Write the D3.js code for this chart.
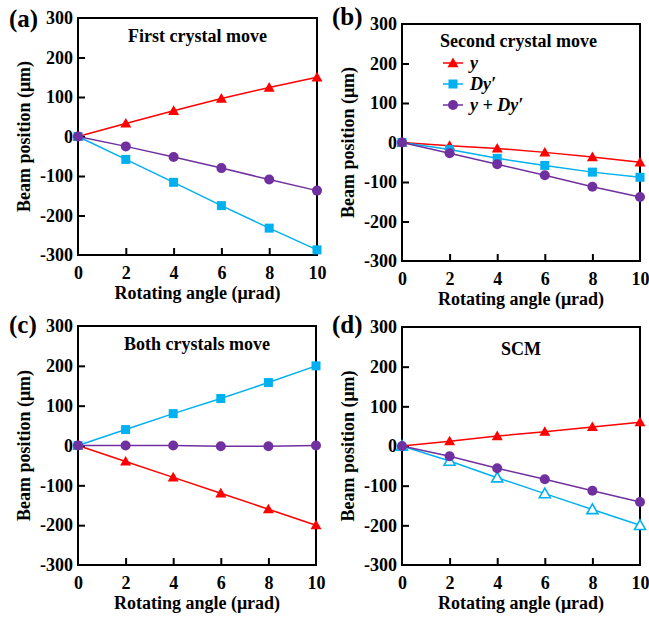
<!DOCTYPE html>
<html>
<head>
<meta charset="utf-8">
<script src="https://cdn.jsdelivr.net/npm/d3@7"></script>
<style>
  body { margin: 0; background: #fff; }
  text { font-family: "Liberation Serif", "Times New Roman", serif; font-weight: bold; }
</style>
</head>
<body>
<svg id="chart" width="649" height="618"></svg>
<script>
// Shared x values and tick labels
const angles = [0, 2, 4, 6, 8, 10];
const xTicks = [0, 2, 4, 6, 8, 10];
const yTicks = [-300, -200, -100, 0, 100, 200, 300];

// (a) First crystal move
const aY    = [0, 33, 65, 96, 124, 150];
const aDy   = [0, -58, -116, -175, -232, -287];
const aSum  = [0, -25, -52, -80, -109, -137];
// (b) Second crystal move
const bY    = [0, -8, -15, -25, -37, -50];
const bDy   = [0, -18, -40, -58, -75, -88];
const bSum  = [0, -27, -55, -83, -112, -138];
// (c) Both crystals move
const cY    = [0, -40, -80, -120, -160, -200];
const cDy   = [0, 40, 80, 118, 158, 200];
const cSum  = [0, 0, 0, -2, -2, 0];
// (d) SCM
const dY    = [0, 12, 25, 36, 48, 60];
const dDy   = [0, -38, -80, -120, -160, -200];
const dSum  = [0, -26, -56, -84, -113, -141];

const legendLabels = ["y", "Dy\u2032", "y + Dy\u2032"];

const red = "#ff0000", cyan = "#00b0f0", purple = "#7030a0";

// Set panel boxes
const panels = [
  {label: "(a)", title: "First crystal move", x0: 78, x1: 317, y0: 18, y1: 255, lx: 9, ly: 27,
   series: [[aY, red, "tri"], [aDy, cyan, "sq"], [aSum, purple, "circ"]]},
  {label: "(b)", title: null, x0: 402, x1: 640, y0: 24, y1: 261, lx: 332, ly: 25, legend: true,
   series: [[bY, red, "tri"], [bDy, cyan, "sq"], [bSum, purple, "circ"]]},
  {label: "(c)", title: "Both crystals move", x0: 78, x1: 316, y0: 326, y1: 565, lx: 9, ly: 333,
   series: [[cY, red, "tri"], [cDy, cyan, "sq"], [cSum, purple, "circ"]]},
  {label: "(d)", title: "SCM", x0: 402, x1: 640, y0: 327, y1: 565, lx: 332, ly: 333, titleDy: 28,
   series: [[dY, red, "tri"], [dDy, cyan, "opentri"], [dSum, purple, "circ"]]}
];

const svg = d3.select("#chart");

function drawMarker(g, shape, color, cx, cy) {
  if (shape === "circ") {
    g.append("circle").attr("cx", cx).attr("cy", cy).attr("r", 5).attr("fill", color);
  } else if (shape === "sq") {
    g.append("rect").attr("x", cx - 4.5).attr("y", cy - 4.5).attr("width", 9).attr("height", 9).attr("fill", color);
  } else {
    const s = 5.5;
    const pts = [[cx, cy - s], [cx + s, cy + s * 0.75], [cx - s, cy + s * 0.75]];
    const p = g.append("path").attr("d", "M" + pts.join("L") + "Z");
    if (shape === "tri") p.attr("fill", color);
    else p.attr("fill", "#fff").attr("stroke", color).attr("stroke-width", 1.6);
  }
}

panels.forEach(function(pn) {
  let x = d3.scaleLinear().domain([0, 10]).range([pn.x0, pn.x1]);
  let y = d3.scaleLinear().domain([-300, 300]).range([pn.y1, pn.y0]);
  let g = svg.append("g");

  // Axes with inward ticks
  let xa = g.append("g").attr("transform", "translate(0," + pn.y1 + ")")
    .call(d3.axisBottom(x).tickValues(xTicks).tickSize(-7).tickPadding(11));
  let ya = g.append("g").attr("transform", "translate(" + pn.x0 + ",0)")
    .call(d3.axisLeft(y).tickValues(yTicks).tickSize(-7).tickPadding(5)
      .tickFormat(function(d) { return String(d); }));
  [xa, ya].forEach(function(a) {
    a.select(".domain").remove();
    a.selectAll("line").attr("stroke", "#000").attr("stroke-width", 2);
    a.selectAll("text").attr("fill", "#000").style("font-size", "18px")
      .style("font-family", '"Liberation Serif", serif').style("font-weight", "bold");
  });
  ya.selectAll(".tick").filter(function(d) { return d === 300 || d === -300; }).select("line").remove();
  xa.selectAll(".tick").filter(function(d) { return d === 0 || d === 10; }).select("line").remove();

  // Frame
  g.append("rect").attr("x", pn.x0).attr("y", pn.y0)
    .attr("width", pn.x1 - pn.x0).attr("height", pn.y1 - pn.y0)
    .attr("fill", "none").attr("stroke", "#000").attr("stroke-width", 2);

  // Series
  let line = d3.line().x(function(d, i) { return x(angles[i]); }).y(function(d) { return y(d); });
  pn.series.forEach(function(s) {
    g.append("path").datum(s[0]).attr("d", line)
      .attr("fill", "none").attr("stroke", s[1]).attr("stroke-width", 1.5);
    s[0].forEach(function(v, i) { drawMarker(g, s[2], s[1], x(angles[i]), y(v)); });
  });

  // Axis titles
  g.append("text").attr("x", (pn.x0 + pn.x1) / 2).attr("y", pn.y1 + 44)
    .attr("text-anchor", "middle").style("font-size", "18px").text("Rotating angle (\u03bcrad)");
  g.append("text").attr("transform", "translate(" + (pn.x0 - 48) + "," + (pn.y0 + pn.y1) / 2 + ") rotate(-90)")
    .attr("text-anchor", "middle").style("font-size", "18px").text("Beam position (\u03bcm)");

  // Panel label
  g.append("text").attr("x", pn.lx).attr("y", pn.ly).style("font-size", "25px").text(pn.label);

  if (pn.title) {
    g.append("text").attr("x", (pn.x0 + pn.x1) / 2).attr("y", pn.y0 + (pn.titleDy || 24))
      .attr("text-anchor", "middle").style("font-size", "18px").text(pn.title);
  }

  if (pn.legend) {
    g.append("text").attr("x", 440).attr("y", pn.y0 + 23).style("font-size", "18px").text("Second crystal move");
    pn.series.forEach(function(s, i) {
      let ly = pn.y0 + 39 + i * 21;
      g.append("line").attr("x1", 443).attr("x2", 463).attr("y1", ly).attr("y2", ly)
        .attr("stroke", s[1]).attr("stroke-width", 1.5);
      drawMarker(g, s[2], s[1], 453, ly);
      g.append("text").attr("x", 470).attr("y", ly + 6).style("font-size", "18px")
        .style("font-style", "italic").text(legendLabels[i]);
    });
  }
});
</script>
</body>
</html>
